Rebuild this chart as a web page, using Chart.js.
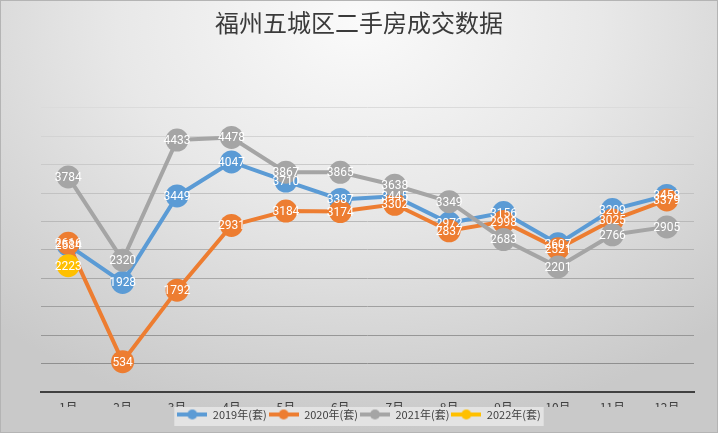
<!DOCTYPE html>
<html>
<head>
<meta charset="utf-8">
<script src="https://cdn.jsdelivr.net/npm/chart.js@4.4.1/dist/chart.umd.min.js"></script>
<style>
    html, body { margin: 0; padding: 0; }
    #marco {
        width: 718px; height: 433px; box-sizing: border-box;
        border: 1px solid #b4b4b4;
        background: radial-gradient(ellipse 75% 95% at 50% 5%, #fafafa 0%, #e8e8e8 45%, #d4d4d4 80%, #c9c9c9 100%);
    }
    canvas { display: block; }
</style>
</head>
<body>
<div id="marco"><canvas id="grafico" width="716" height="431"></canvas></div>
<script>
const MESES = ['1月', '2月', '3月', '4月', '5月', '6月', '7月', '8月', '9月', '10月', '11月', '12月'];
const SERIE_2019 = [2584, 1928, 3449, 4047, 3710, 3387, 3445, 2972, 3156, 2607, 3209, 3458];
const SERIE_2020 = [2616, 534, 1792, 2931, 3184, 3174, 3302, 2837, 2998, 2521, 3025, 3379];
const SERIE_2021 = [3784, 2320, 4433, 4478, 3867, 3865, 3638, 3349, 2683, 2201, 2766, 2905];
const SERIE_2022 = [2223, null, null, null, null, null, null, null, null, null, null, null];
const NOMBRES = ['2019年(套)', '2020年(套)', '2021年(套)', '2022年(套)'];
const COLORES = ['#5b9bd5', '#ed7d31', '#a5a5a5', '#ffc000'];
const TITULO = '福州五城区二手房成交数据';

const FUENTE = '"Noto Sans CJK SC", "Noto Sans", sans-serif';

// icono de leyenda: línea con círculo al medio
const iconoLeyenda = (color) => {
    const c = document.createElement('canvas');
    c.width = 30; c.height = 12;
    const ctx = c.getContext('2d');
    ctx.strokeStyle = color;
    ctx.lineWidth = 4;
    ctx.beginPath(); ctx.moveTo(0, 6); ctx.lineTo(30, 6); ctx.stroke();
    ctx.fillStyle = color;
    ctx.beginPath(); ctx.arc(15, 6, 5, 0, Math.PI * 2); ctx.fill();
    return c;
};

const etiquetas = {
    id: 'etiquetas',
    afterDatasetsDraw(chart) {
        const { ctx } = chart;
        ctx.save();
        ctx.font = '12px "Liberation Sans Narrow", "Roboto", sans-serif';
        ctx.fillStyle = '#ffffff';
        ctx.textAlign = 'center';
        ctx.textBaseline = 'middle';
        chart.data.datasets.forEach((ds, i) => {
            chart.getDatasetMeta(i).data.forEach((p, j) => {
                const v = ds.data[j];
                if (v == null) return;
                ctx.fillText(String(v), p.x, p.y + 1);
            });
        });
        ctx.restore();
    }
};

const fondoLeyenda = {
    id: 'fondoLeyenda',
    beforeDraw(chart) {
        const cajas = chart.legend?.legendHitBoxes;
        if (!cajas || !cajas.length) return;
        const izq = Math.min(...cajas.map(b => b.left)) - 3;
        const der = Math.max(...cajas.map(b => b.left + b.width)) + 3;
        const arr = chart.legend.top;
        const { ctx } = chart;
        ctx.save();
        ctx.fillStyle = 'rgba(235,235,235,0.75)';
        ctx.fillRect(izq, arr, der - izq, 19);
        ctx.restore();
    }
};

const serie = (nombre, datos, color, orden) => ({
    label: nombre,
    data: datos,
    borderColor: color,
    backgroundColor: color,
    borderWidth: 4,
    pointRadius: 11.5,
    pointHoverRadius: 11.5,
    pointBorderWidth: 0,
    pointBackgroundColor: color,
    pointStyle: 'circle',
    tension: 0,
    order: orden
});

new Chart(document.getElementById('grafico'), {
    type: 'line',
    data: {
        labels: MESES,
        datasets: [
            serie(NOMBRES[0], SERIE_2019, COLORES[0], 4),
            serie(NOMBRES[1], SERIE_2020, COLORES[1], 3),
            serie(NOMBRES[2], SERIE_2021, COLORES[2], 2),
            serie(NOMBRES[3], SERIE_2022, COLORES[3], 1)
        ]
    },
    options: {
        responsive: false,
        animation: false,
        layout: { padding: { left: 0, right: 0, top: 0, bottom: 2 } },
        plugins: {
            title: {
                display: true,
                text: TITULO,
                color: '#3a3a3a',
                font: { family: FUENTE, size: 24, weight: 'normal' },
                padding: { top: 7, bottom: 71 }
            },
            legend: {
                position: 'bottom',
                labels: {
                    usePointStyle: true,
                    pointStyleWidth: 30,
                    padding: 2,
                    color: '#404040',
                    font: { family: FUENTE, size: 11 },
                    generateLabels: (chart) => chart.data.datasets.map((ds, i) => ({
                        text: ds.label,
                        fillStyle: ds.borderColor,
                        strokeStyle: ds.borderColor,
                        lineWidth: 0,
                        pointStyle: iconoLeyenda(ds.borderColor),
                        datasetIndex: i,
                        hidden: false,
                        fontColor: '#404040'
                    }))
                }
            },
            tooltip: { enabled: false }
        },
        scales: {
            x: {
                offset: true,
                grid: { display: false, drawTicks: false },
                border: { display: true, color: '#404040', width: 2 },
                ticks: { color: '#404040', font: { family: FUENTE, size: 12 }, padding: 8, maxRotation: 0 },
                afterFit: (s) => { s.height = 15; }
            },
            y: {
                min: 0,
                max: 5000,
                ticks: { display: false, stepSize: 500 },
                border: { display: false },
                grid: {
                    drawTicks: false,
                    lineWidth: 1,
                    color: (c) => {
                        const t = (c.tick?.value ?? 0) / 5000;
                        const g = Math.round(0x86 + (0xdb - 0x86) * t);
                        return `rgb(${g},${g},${g})`;
                    }
                },
                afterFit: (s) => { s.width = 40; }
            },
            derecha: {
                position: 'right',
                display: true,
                ticks: { display: false },
                grid: { display: false, drawTicks: false },
                border: { display: false },
                afterFit: (s) => { s.width = 23; }
            }
        }
    },
    plugins: [fondoLeyenda, etiquetas]
});
</script>
</body>
</html>
